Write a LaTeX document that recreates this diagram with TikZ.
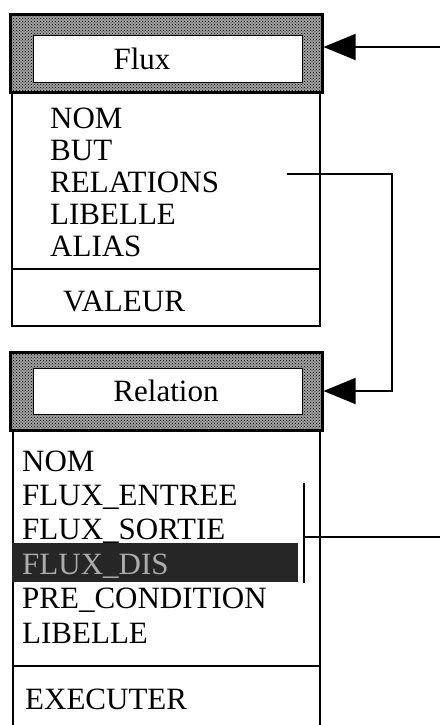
\documentclass[tikz,border=0pt]{standalone}
\usepackage{fontspec}
\setmainfont{Liberation Serif}
\usepackage{tikz}
\usetikzlibrary{arrows.meta, positioning, patterns}

\tikzset{
  header/.style={draw, line width=3pt, minimum width=312pt, minimum height=78pt,
    inner sep=0pt, preaction={fill=gray!75}, pattern=crosshatch dots, pattern color=black},
  title/.style={draw, fill=white, line width=1pt, minimum width=269pt, minimum height=46pt, inner sep=0pt},
  item/.style={anchor=base west, inner sep=0pt, font=\fontsize{31}{33}\selectfont},
  box/.style={line width=1.6pt},
  link/.style={line width=1.6pt},
  arr/.style={link, -{Triangle[length=32pt,width=26pt]}}
}

\begin{document}
\begin{tikzpicture}[x=1pt,y=-1pt]
  \useasboundingbox (0,0) rectangle (440,725);
  % Flux class
  \draw[box] (12,93) rectangle (320,326);
  \draw[box] (12,269) -- (320,269);
  \node[header] (fluxhd) at (166,53.5) {};
  \node[title] (fluxtt) at (167.5,59) {};
  \node[item, anchor=center] (fluxname) at (142,59) {Flux};
  \foreach \t [count=\i] in {NOM, BUT, RELATIONS, LIBELLE, ALIAS} {
    \node[item] (fx\i) at (50,{128+32*(\i-1)}) {\t};
  }
  \node[item] (fxval) at (63,311) {VALEUR};
  % Relation class
  \draw[box] (13,726) |- (320,430) -- (320,726);
  \draw[box] (13,666) -- (320,666);
  \node[header] (relhd) at (166,391) {};
  \node[title] (reltt) at (167.5,391) {};
  \node[item, anchor=center] (relname) at (166,391) {Relation};
  \fill[black!85] (12,543) rectangle (298,582);
  \foreach \t/\c [count=\i] in {NOM/black, FLUX\_ENTREE/black, FLUX\_SORTIE/black,
      FLUX\_DIS/gray!65, PRE\_CONDITION/black, LIBELLE/black} {
    \node[item, text=\c] (rx\i) at (22,{471+34.4*(\i-1)}) {\t};
  }
  \node[item] (rxexec) at (25,709) {EXECUTER};
  % incoming link to Flux
  \coordinate (fxin) at (440,47);
  \draw[arr] (fxin) -- (fxin -| fluxhd.east);
  % RELATIONS -> Relation
  \coordinate (rel0) at (287,174);
  \coordinate (rel1) at (392,174);
  \draw[arr] (rel0) -- (rel1) |- (relhd.east);
  % bracket on Relation attributes
  \coordinate (brtop) at (304,483);
  \coordinate (brbot) at (304,583);
  \coordinate (brmid) at (304,537);
  \coordinate (relout) at (440,537);
  \draw[link] (brtop) -- (brbot);
  \draw[link] (brmid) -- (relout);
\end{tikzpicture}
\end{document}
